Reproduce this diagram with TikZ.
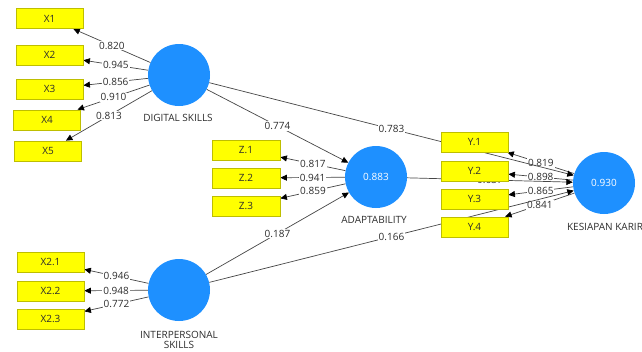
\documentclass[tikz,border=0pt]{standalone}
\usepackage{fontspec}
\setmainfont{Open Sans}
\usetikzlibrary{arrows.meta,backgrounds}
\definecolor{lvblue}{RGB}{30,144,255}
\definecolor{indyellow}{RGB}{255,255,0}
\definecolor{indborder}{RGB}{190,190,0}
\definecolor{pathgray}{RGB}{70,70,70}
\definecolor{txtgray}{RGB}{45,45,45}
\pgfdeclarelayer{paper}
\pgfsetlayers{paper,background,main}
\begin{document}
\begin{tikzpicture}[x=1pt,y=-1pt,
  font=\fontsize{10}{11.5}\selectfont,
  indicator/.style={draw=indborder, fill=indyellow, line width=0.8pt,
    minimum width=67pt, minimum height=20pt, inner sep=0pt, text=txtgray},
  latent/.style={circle, fill=lvblue, minimum size=62pt, inner sep=0pt, text=white},
  lvname/.style={text=txtgray, align=center, inner sep=0pt},
  link/.style={draw=pathgray, line width=0.7pt,
    -{Triangle[length=6.5pt,width=6pt,color=black]}},
  coef/.style={fill=white, inner sep=1pt, text=txtgray}]

\begin{pgfonlayer}{paper}
  \fill[white] (0,0) rectangle (642,351);
\end{pgfonlayer}
\useasboundingbox (0,0) rectangle (642,351);

% latent variables
\node[latent] (ds) at (179,75) {};
\node[latent] (ad) at (376,177) {0.883};
\node[latent] (kk) at (604,183) {0.930};
\node[latent] (ip) at (179,290) {};

\node[lvname] (dsname) at (178,118) {DIGITAL SKILLS};
\node[lvname] (adname) at (374,220) {ADAPTABILITY};
\node[lvname] (kkname) at (605,227) {KESIAPAN KARIR};
\node[lvname] (ipname) at (179,339.5) {INTERPERSONAL\\[-1.5pt]SKILLS};

% indicators
\node[indicator] (x1) at (49.5,18.5) {X1};
\node[indicator] (x2) at (49.5,55) {X2};
\node[indicator] (x3) at (49.5,89) {X3};
\node[indicator] (x4) at (47,120) {X4};
\node[indicator] (x5) at (48,151) {X5};

\node[indicator, minimum width=68pt] (z1) at (246,150) {Z.1};
\node[indicator, minimum width=68pt] (z2) at (246,178) {Z.2};
\node[indicator, minimum width=68pt] (z3) at (246,206) {Z.3};

\node[indicator] (y1) at (474.5,142) {Y.1};
\node[indicator] (y2) at (474.5,171) {Y.2};
\node[indicator] (y3) at (474.5,199) {Y.3};
\node[indicator] (y4) at (474.5,227) {Y.4};

\node[indicator] (w1) at (50.5,262) {X2.1};
\node[indicator] (w2) at (50.5,291) {X2.2};
\node[indicator] (w3) at (50.5,319) {X2.3};

% connectors sit underneath the shapes
\begin{scope}[on background layer]
  \draw[link] (ds) -- node[coef] {0.820} (x1);
  \draw[link] (ds) -- node[coef] {0.945} (x2);
  \draw[link] (ds) -- node[coef] {0.856} (x3);
  \draw[link] (ds) -- node[coef] {0.910} (x4);
  \draw[link] (ds) -- node[coef] {0.813} (x5);

  \draw[link] (ad) -- node[coef] {0.817} (z1);
  \draw[link] (ad) -- node[coef] {0.941} (z2);
  \draw[link] (ad) -- node[coef] {0.859} (z3);

  \draw[link] (kk) -- node[coef] {0.819} (y1);
  \draw[link] (kk) -- node[coef] {0.898} (y2);
  \draw[link] (kk) -- node[coef] {0.865} (y3);
  \draw[link] (kk) -- node[coef] {0.841} (y4);

  \draw[link] (ip) -- node[coef] {0.946} (w1);
  \draw[link] (ip) -- node[coef] {0.948} (w2);
  \draw[link] (ip) -- node[coef] {0.772} (w3);

  \draw[link] (ds) -- node[coef] {0.774} (ad);
  \draw[link] (ds) -- node[coef] {0.783} (kk);
  \draw[link] (ad) -- node[coef] {0.637} (kk);
  \draw[link] (ip) -- node[coef] {0.187} (ad);
  \draw[link] (ip) -- node[coef] {0.166} (kk);
\end{scope}
\end{tikzpicture}
\end{document}
